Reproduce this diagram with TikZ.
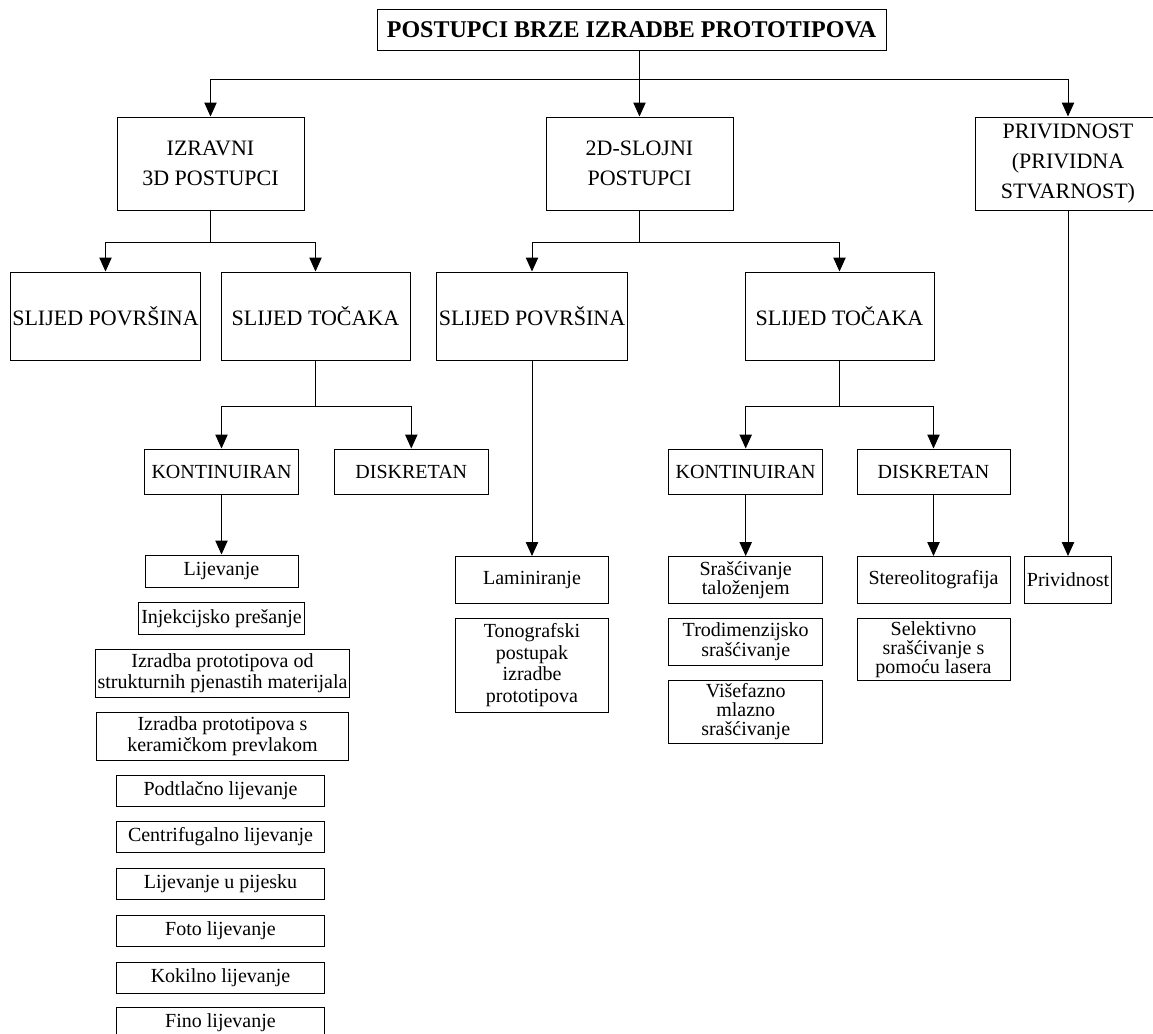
\documentclass[tikz,border=0pt]{standalone}
\usepackage{fontspec}
\setmainfont{Liberation Serif}
\usetikzlibrary{arrows.meta}

\begin{document}
\begin{tikzpicture}[x=0.5pt, y=-0.5pt,
    box/.style={draw, line width=0.5pt, align=center, inner sep=1pt, font=\fontsize{11}{15}\selectfont},
    sub/.style={draw, line width=0.5pt, align=center, inner sep=1pt, font=\fontsize{10}{10.8}\selectfont},
    tight/.style={font=\fontsize{10}{9.6}\selectfont},
    arr/.style={-{Triangle[length=7pt,width=6.2pt]}, line width=0.5pt}]

    \useasboundingbox (0,0) rectangle (1153,1034);

    % top levels
    \node[box, font=\bfseries\fontsize{12}{14}\selectfont, minimum width=254.5pt, minimum height=20.7pt] (title) at (631.5,30) {POSTUPCI BRZE IZRADBE PROTOTIPOVA};
    \node[box, minimum width=93.5pt, minimum height=46.5pt] (izr) at (210.5,163.5) {IZRAVNI\\3D POSTUPCI};
    \node[box, minimum width=93.5pt, minimum height=46.5pt] (d2) at (639.5,163.5) {2D-SLOJNI\\POSTUPCI};
    \node[box, minimum width=93pt, minimum height=46.5pt] (priv) at (1068,163.5) {PRIVIDNOST\\(PRIVIDNA\\STVARNOST)};

    \node[box, minimum width=94pt, minimum height=44pt] (sp1) at (105.5,316) {SLIJED POVRŠINA};
    \node[box, minimum width=94.5pt, minimum height=44pt] (st1) at (315.5,316) {SLIJED TOČAKA};
    \node[box, minimum width=94pt, minimum height=44pt] (sp2) at (532,316) {SLIJED POVRŠINA};
    \node[box, minimum width=94.5pt, minimum height=44pt] (st2) at (839.5,316) {SLIJED TOČAKA};

    \node[sub, minimum width=77pt, minimum height=22.5pt] (kon1) at (221.5,471.5) {KONTINUIRAN};
    \node[sub, minimum width=76.7pt, minimum height=22.5pt] (dis1) at (411.3,471.5) {DISKRETAN};
    \node[sub, minimum width=77pt, minimum height=22.5pt] (kon2) at (745.7,471.5) {KONTINUIRAN};
    \node[sub, minimum width=76.5pt, minimum height=22.5pt] (dis2) at (933.5,471.5) {DISKRETAN};

    % left column
    \node[sub, minimum width=76.5pt, minimum height=16pt] (lij) at (221.5,571) {Lijevanje};
    \node[sub, minimum width=83pt, minimum height=16pt] (inj) at (221.5,618.5) {Injekcijsko prešanje};
    \node[sub, minimum width=126pt, minimum height=24pt] (izo) at (222.5,673) {Izradba prototipova od\\strukturnih pjenastih materijala};
    \node[sub, minimum width=126pt, minimum height=24pt] (izs) at (222.5,736) {Izradba prototipova s\\keramičkom prevlakom};
    \node[sub, minimum width=104pt, minimum height=15.5pt] (pod) at (220.5,790.5) {Podtlačno lijevanje};
    \node[sub, minimum width=104pt, minimum height=15.5pt] (cen) at (220.5,836.5) {Centrifugalno lijevanje};
    \node[sub, minimum width=104pt, minimum height=15.5pt] (pij) at (220.5,883.5) {Lijevanje u pijesku};
    \node[sub, minimum width=104pt, minimum height=15.5pt] (fot) at (220.5,931) {Foto lijevanje};
    \node[sub, minimum width=104pt, minimum height=15.5pt] (kok) at (220.5,978) {Kokilno lijevanje};
    \node[sub, minimum width=104pt, minimum height=15.5pt] (fin) at (220.5,1022.5) {Fino lijevanje};

    % middle and right columns
    \node[sub, minimum width=76.5pt, minimum height=23.5pt] (lam) at (532,580) {Laminiranje};
    \node[sub, minimum width=76.5pt, minimum height=47pt] (ton) at (532,665) {Tonografski\\postupak\\izradbe\\prototipova};
    \node[sub, tight, minimum width=77pt, minimum height=23.5pt] (sra) at (745.7,580) {Srašćivanje\\taloženjem};
    \node[sub, tight, minimum width=77pt, minimum height=23.4pt] (tro) at (745.7,641.7) {Trodimenzijsko\\srašćivanje};
    \node[sub, tight, minimum width=77pt, minimum height=31.7pt] (vis) at (745.7,711.7) {Višefazno\\mlazno\\srašćivanje};
    \node[sub, minimum width=76.5pt, minimum height=23.5pt] (ste) at (933.5,580) {Stereolitografija};
    \node[sub, tight, minimum width=76.5pt, minimum height=31.2pt] (sel) at (933.5,649.5) {Selektivno\\srašćivanje s\\pomoću lasera};
    \node[sub, minimum width=43.7pt, minimum height=23.5pt] (pri) at (1068,580) {Prividnost};

    % connectors
    \path (title.south -| d2.north) ++(0,28.5) coordinate (tj);
    \draw[arr] (title.south -| d2.north) -- (d2.north);
    \draw[arr] (tj) -| (izr.north);
    \draw[arr] (tj) -| (priv.north);

    \path (izr.south) ++(0,32) coordinate (ij);
    \draw (izr.south) -- (ij);
    \draw[arr] (ij) -| (sp1.north);
    \draw[arr] (ij) -| (st1.north);

    \path (d2.south) ++(0,32) coordinate (dj);
    \draw (d2.south) -- (dj);
    \draw[arr] (dj) -| (sp2.north);
    \draw[arr] (dj) -| (st2.north);

    \path (st1.south) ++(0,46) coordinate (sj1);
    \draw (st1.south) -- (sj1);
    \draw[arr] (sj1) -| (kon1.north);
    \draw[arr] (sj1) -| (dis1.north);

    \path (st2.south) ++(0,46) coordinate (sj2);
    \draw (st2.south) -- (sj2);
    \draw[arr] (sj2) -| (kon2.north);
    \draw[arr] (sj2) -| (dis2.north);

    \draw[arr] (kon1.south) -- (lij.north);
    \draw[arr] (sp2.south) -- (lam.north);
    \draw[arr] (kon2.south) -- (sra.north);
    \draw[arr] (dis2.south) -- (ste.north);
    \draw[arr] (priv.south) -- (pri.north);

\end{tikzpicture}
\end{document}
